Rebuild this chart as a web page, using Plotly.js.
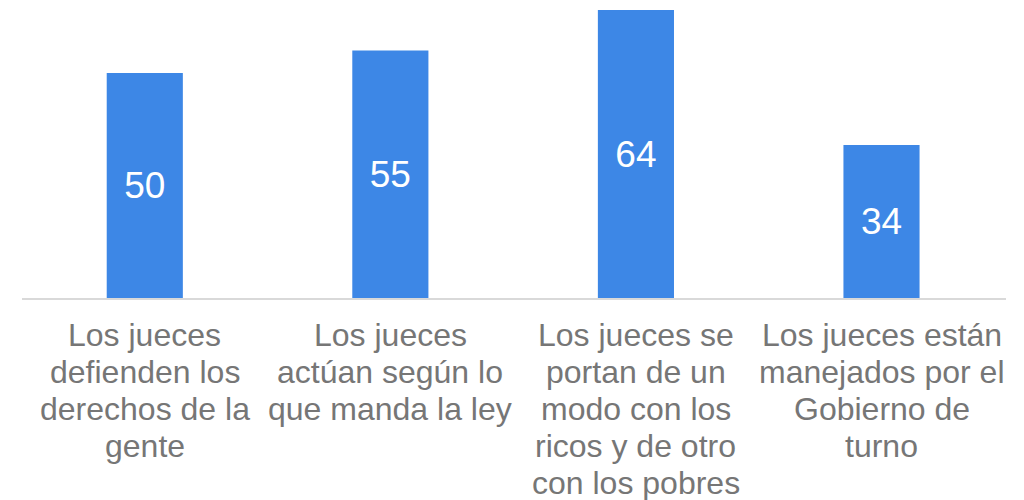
<!DOCTYPE html>
<html><head><meta charset="utf-8">
<script src="https://cdn.plot.ly/plotly-3.0.1.min.js"></script>
<style>body{margin:0;background:#fff}#chart{width:1024px;height:500px}</style>
</head><body><div id="chart"></div>
<script>
const categories = [
  "Los jueces<br>defienden los<br>derechos de la<br>gente",
  "Los jueces<br>actúan según lo<br>que manda la ley",
  "Los jueces se<br>portan de un<br>modo con los<br>ricos y de otro<br>con los pobres",
  "Los jueces están<br>manejados por el<br>Gobierno de<br>turno"
];
const values = [50, 55, 64, 34];

const FONT = 'Liberation Sans, Arial, sans-serif';
const annotations = [];
categories.forEach((cat, ci) => {
  cat.split('<br>').forEach((line, li) => {
    annotations.push({
      x: cat, xref: 'x', y: 0, yref: 'paper',
      yanchor: 'middle', xanchor: 'center',
      yshift: -(37 + li * 37),
      text: line, showarrow: false,
      font: {family: FONT, size: 32, color: '#767676'}
    });
  });
});

Plotly.newPlot('chart', [{
  type: 'bar',
  x: categories,
  y: values,
  text: values.map(String),
  textposition: 'inside',
  insidetextanchor: 'middle',
  constraintext: 'none',
  textfont: {family: FONT, size: 37, color: '#ffffff'},
  marker: {color: '#3d87e6'},
  hoverinfo: 'none'
}], {
  width: 1024, height: 500,
  margin: {l: 22, r: 18, t: 10, b: 202},
  bargap: 0.69,
  paper_bgcolor: '#fff', plot_bgcolor: '#fff',
  showlegend: false,
  annotations: annotations,
  xaxis: {
    showline: true, linecolor: '#d9d9d9', linewidth: 2,
    ticks: '', showticklabels: false
  },
  yaxis: {range: [0, 64], visible: false, showgrid: false, zeroline: false, fixedrange: true}
}, {displayModeBar: false, staticPlot: true});
</script></body></html>
